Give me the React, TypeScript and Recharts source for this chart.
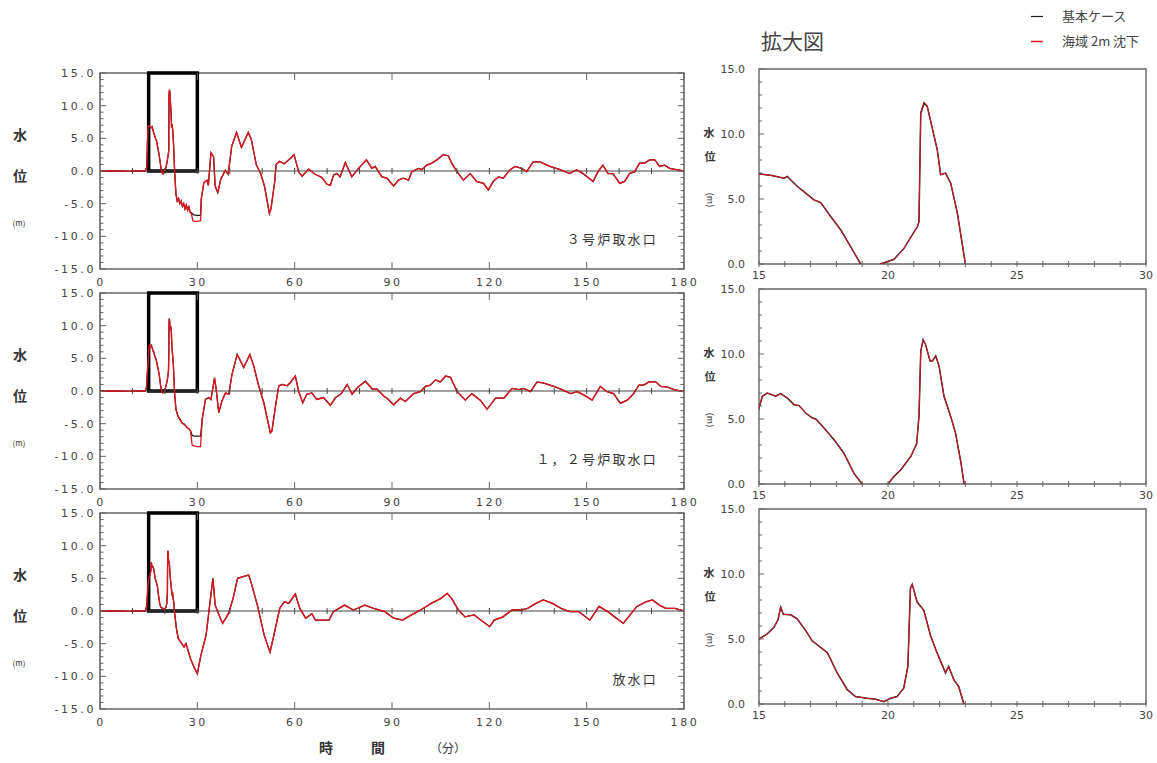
import React from "react";
import { ComposedChart, Line, XAxis, YAxis, ReferenceArea, ReferenceLine, Scatter } from "recharts";

type Pt = [number, number];

// water level [minute, m] — 3号炉取水口
const intake3Base: Pt[] = [
  [0, 0], [5, 0], [9.5, -0.05], [10, 0.1], [10.5, 0], [14, 0], [14.4, 0.6], [14.8, 6.8], [15, 6.94], [15.5, 6.8],
  [15.97, 6.6], [16.1, 6.73], [16.49, 5.96], [16.74, 5.57], [17.13, 4.93], [17.39, 4.73], [17.78, 3.65], [18.17, 2.62],
  [18.55, 1.34], [18.94, 0], [19.2, -0.35], [19.45, -0.45], [19.72, 0], [20.23, 0.36], [20.62, 1.2], [21.14, 2.88],
  [21.2, 3.26], [21.27, 11.6], [21.4, 12.38], [21.52, 12.12], [21.91, 8.78], [22.04, 6.86], [22.23, 6.99], [22.43, 6.22],
  [22.69, 3.9], [23.0, 0], [23.4, -3.5], [23.8, -4.6], [24.2, -4.2], [24.6, -5.0], [25, -4.6], [25.4, -5.4], [25.8, -5.0],
  [26.2, -5.8], [26.6, -5.2], [27, -6.0], [27.4, -5.5], [27.8, -6.3], [28.2, -6.4], [28.6, -6.6], [29, -6.7], [30, -6.8],
  [31, -6.8], [31.2, -4.3], [32, -1.8], [33, -1.4], [33.4, -2.2], [34.2, 2.8], [35, 2.2], [35.5, -2.3], [36.3, -3.3],
  [37.2, -1.3], [38.6, 0.1], [39.5, -0.5], [40.6, 3.8], [42.1, 5.9], [43.6, 3.6], [45.7, 5.9], [46.6, 4.9], [48.2, 0.9],
  [49.6, -0.5], [50.7, -2.3], [52.2, -6.5], [52.7, -5.8], [53.8, -1.8], [54.3, 1.0], [55.3, 1.5], [56.8, 1.1], [58.8, 2.0],
  [59.8, 2.5], [61.3, -0.2], [62.3, -0.8], [64.3, 0.3], [66.3, -0.5], [68.4, -1.0], [69.9, -2.0], [71, -2.2], [72, -0.6],
  [73, -0.4], [74, -0.9], [75.6, 1.3], [77.6, -0.9], [79.7, 0.4], [82.1, 1.7], [83.8, 0.4], [84.8, 0.7], [86.9, -0.9],
  [88.4, -1.1], [90.5, -2.3], [92, -1.4], [93.5, -1.1], [95.1, -1.4], [96.1, -0.1], [98.2, 0.4], [99.2, 0.2], [100.7, 0.9],
  [102.3, 1.2], [103.8, 1.7], [105.8, 2.5], [107.4, 2.3], [108.4, 1.2], [110, -0.1], [112, -1.4], [114.1, -0.4],
  [116.1, -1.6], [118.2, -1.9], [119.7, -2.9], [121.2, -1.6], [122.8, -0.9], [124.3, -1.1], [126.4, 0.2], [127.9, 0.7],
  [130, 0.4], [131.5, -0.1], [133.5, 1.4], [135.6, 1.4], [138.7, 0.7], [141.8, 0.2], [144.8, -0.4], [146.9, 0.2],
  [148.9, -0.4], [152, -1.6], [153.5, -0.1], [155, 0.9], [156.6, -0.4], [158.1, -0.4], [160.2, -1.9], [161.7, -1.6],
  [163.2, -0.4], [164.8, -0.1], [166.3, 1.2], [167.9, 1.2], [169.4, 1.7], [171, 1.7], [172.5, 0.7], [174, 0.9],
  [175.6, 0.4], [177.6, 0.2], [180, 0],
];
const intake3Sub: Pt[] = [
  [0, 0], [5, 0], [9.5, -0.05], [10, 0.1], [10.5, 0], [14, 0], [14.4, 0.6], [14.8, 6.8], [15, 6.94], [15.5, 6.8],
  [15.97, 6.6], [16.1, 6.73], [16.49, 5.96], [16.74, 5.57], [17.13, 4.93], [17.39, 4.73], [17.78, 3.65], [18.17, 2.62],
  [18.55, 1.34], [18.94, 0], [19.2, -0.35], [19.45, -0.45], [19.72, 0], [20.23, 0.36], [20.62, 1.2], [21.14, 2.88],
  [21.2, 3.26], [21.27, 11.7], [21.4, 12.45], [21.52, 12.15], [21.91, 8.8], [22.04, 6.86], [22.23, 6.99], [22.43, 6.22],
  [22.69, 3.9], [23.0, 0], [23.4, -3.5], [23.8, -4.6], [24.2, -4.2], [24.6, -5.0], [25, -4.6], [25.4, -5.4], [25.8, -5.0],
  [26.2, -5.8], [26.6, -5.2], [27, -6.0], [27.4, -5.5], [27.8, -6.3], [28.2, -6.6], [28.6, -7.6], [29, -7.7], [30, -7.7],
  [31, -7.6], [31.2, -4.3], [32, -1.8], [33, -1.4], [33.4, -2.2], [34.2, 2.8], [35, 2.2], [35.5, -2.3], [36.3, -3.3],
  [37.2, -1.3], [38.6, 0.1], [39.5, -0.5], [40.6, 3.8], [42.1, 5.9], [43.6, 3.6], [45.7, 5.9], [46.6, 4.9], [48.2, 0.9],
  [49.6, -0.5], [50.7, -2.3], [52.2, -6.5], [52.7, -5.8], [53.8, -1.8], [54.3, 1.0], [55.3, 1.5], [56.8, 1.1], [58.8, 2.0],
  [59.8, 2.5], [61.3, -0.2], [62.3, -0.8], [64.3, 0.3], [66.3, -0.5], [68.4, -1.0], [69.9, -2.0], [71, -2.2], [72, -0.6],
  [73, -0.4], [74, -0.9], [75.6, 1.3], [77.6, -0.9], [79.7, 0.4], [82.1, 1.7], [83.8, 0.4], [84.8, 0.7], [86.9, -0.9],
  [88.4, -1.1], [90.5, -2.3], [92, -1.4], [93.5, -1.1], [95.1, -1.4], [96.1, -0.1], [98.2, 0.4], [99.2, 0.2], [100.7, 0.9],
  [102.3, 1.2], [103.8, 1.7], [105.8, 2.5], [107.4, 2.3], [108.4, 1.2], [110, -0.1], [112, -1.4], [114.1, -0.4],
  [116.1, -1.6], [118.2, -1.9], [119.7, -2.9], [121.2, -1.6], [122.8, -0.9], [124.3, -1.1], [126.4, 0.2], [127.9, 0.7],
  [130, 0.4], [131.5, -0.1], [133.5, 1.4], [135.6, 1.4], [138.7, 0.7], [141.8, 0.2], [144.8, -0.4], [146.9, 0.2],
  [148.9, -0.4], [152, -1.6], [153.5, -0.1], [155, 0.9], [156.6, -0.4], [158.1, -0.4], [160.2, -1.9], [161.7, -1.6],
  [163.2, -0.4], [164.8, -0.1], [166.3, 1.2], [167.9, 1.2], [169.4, 1.7], [171, 1.7], [172.5, 0.7], [174, 0.9],
  [175.6, 0.4], [177.6, 0.2], [180, 0],
];

// 1，2号炉取水口
const intake12Base: Pt[] = [
  [0, 0], [5, 0], [9.5, -0.05], [10, 0.1], [10.5, 0], [14, 0], [14.3, 0.5], [14.7, 3.5], [15, 5.85], [15.13, 6.75],
  [15.32, 7.0], [15.65, 6.75], [15.84, 6.96], [16.1, 6.6], [16.36, 6.1], [16.55, 6.03], [16.81, 5.46], [17.07, 5.07],
  [17.2, 5.0], [17.52, 4.3], [17.91, 3.4], [18.29, 2.37], [18.68, 0.82], [19.0, 0], [19.3, -0.3], [19.7, -0.2], [20.0, 0],
  [20.23, 0.57], [20.49, 1.08], [20.88, 2.1], [21.11, 3.1], [21.2, 5.2], [21.27, 10.2], [21.36, 11.1], [21.46, 10.7],
  [21.63, 9.46], [21.72, 9.46], [21.85, 9.85], [21.98, 9.07], [22.17, 6.75], [22.43, 5.2], [22.62, 3.9], [22.82, 1.73],
  [22.95, 0], [23.4, -2.8], [24, -3.8], [24.6, -4.3], [25.3, -4.9], [26, -5.1], [26.8, -5.6], [27.5, -5.8], [27.9, -6.1],
  [28.4, -6.8], [29, -6.9], [30, -6.9], [31, -6.9], [31.5, -4.3], [32.5, -1.3], [33.5, -1.0], [34.2, -1.3], [35.3, 2.0],
  [35.8, 0.3], [36.6, -3.3], [37.6, -1.5], [38.7, -0.3], [39.7, -0.5], [40.7, 2.6], [42.3, 5.6], [44.3, 3.6], [46.2, 5.6],
  [47.4, 3.8], [48.9, 0.8], [50.5, -1.8], [52.5, -6.4], [53, -6.1], [54.1, -2.3], [55.1, 0.8], [56.2, 1.0], [57.7, 0.8],
  [58.7, 1.3], [60.2, 2.3], [61.2, 0], [62.5, -1.8], [63.7, -0.5], [65.3, -0.3], [66.8, -1.3], [68.9, -1.0], [71, -2.2],
  [72.6, -1.0], [74.2, -0.5], [76.2, 1.0], [77.7, -0.5], [79.3, 0.5], [81.8, 1.5], [83.9, 0.3], [85.4, 0.3], [87.5, -0.8],
  [88.5, -1.1], [90.5, -2.1], [92.6, -1.1], [94.1, -1.6], [96.7, -0.4], [98.7, -0.1], [100.3, 0.7], [101.8, 0.9],
  [103.4, 1.7], [104.9, 1.4], [106.5, 2.3], [108, 2.1], [110.1, -0.1], [112.6, -1.4], [114.6, -0.4], [117.2, -1.4],
  [119.3, -2.8], [121.9, -1.1], [124.5, -1.1], [127, 0.4], [129.1, 0.2], [130.6, 0.4], [132.7, -0.1], [134.7, 1.4],
  [136.8, 1.2], [139.9, 0.7], [142.4, 0.2], [145, -0.4], [147.1, -0.1], [149.1, -0.6], [151.7, -1.4], [154.2, 0.7],
  [156.3, -0.1], [158.3, -0.4], [160.4, -1.9], [162.5, -1.4], [164.5, -0.4], [166.1, 0.9], [167.6, 0.9], [169.2, 1.4],
  [171.3, 1.4], [172.8, 0.7], [174.9, 0.6], [176.9, 0.2], [180, -0.1],
];
const intake12Sub: Pt[] = [
  [0, 0], [5, 0], [9.5, -0.05], [10, 0.1], [10.5, 0], [14, 0], [14.3, 0.5], [14.7, 3.5], [15, 5.85], [15.13, 6.75],
  [15.32, 7.0], [15.65, 6.75], [15.84, 6.96], [16.1, 6.6], [16.36, 6.1], [16.55, 6.03], [16.81, 5.46], [17.07, 5.07],
  [17.2, 5.0], [17.52, 4.3], [17.91, 3.4], [18.29, 2.37], [18.68, 0.82], [19.0, 0], [19.3, -0.3], [19.7, -0.2], [20.0, 0],
  [20.23, 0.57], [20.49, 1.08], [20.88, 2.1], [21.11, 3.1], [21.2, 5.2], [21.27, 10.2], [21.36, 11.1], [21.46, 10.7],
  [21.63, 9.46], [21.72, 9.46], [21.85, 9.85], [21.98, 9.07], [22.17, 6.75], [22.43, 5.2], [22.62, 3.9], [22.82, 1.73],
  [22.95, 0], [23.4, -2.8], [24, -3.8], [24.6, -4.3], [25.3, -4.9], [26, -5.1], [26.8, -5.6], [27.5, -5.8], [27.9, -6.1],
  [28.4, -8.3], [29, -8.4], [30, -8.5], [31, -8.5], [31.5, -4.3], [32.5, -1.3], [33.5, -1.0], [34.2, -1.3], [35.3, 2.0],
  [35.8, 0.3], [36.6, -3.3], [37.6, -1.5], [38.7, -0.3], [39.7, -0.5], [40.7, 2.6], [42.3, 5.6], [44.3, 3.6], [46.2, 5.6],
  [47.4, 3.8], [48.9, 0.8], [50.5, -1.8], [52.5, -6.4], [53, -6.1], [54.1, -2.3], [55.1, 0.8], [56.2, 1.0], [57.7, 0.8],
  [58.7, 1.3], [60.2, 2.3], [61.2, 0], [62.5, -1.8], [63.7, -0.5], [65.3, -0.3], [66.8, -1.3], [68.9, -1.0], [71, -2.2],
  [72.6, -1.0], [74.2, -0.5], [76.2, 1.0], [77.7, -0.5], [79.3, 0.5], [81.8, 1.5], [83.9, 0.3], [85.4, 0.3], [87.5, -0.8],
  [88.5, -1.1], [90.5, -2.1], [92.6, -1.1], [94.1, -1.6], [96.7, -0.4], [98.7, -0.1], [100.3, 0.7], [101.8, 0.9],
  [103.4, 1.7], [104.9, 1.4], [106.5, 2.3], [108, 2.1], [110.1, -0.1], [112.6, -1.4], [114.6, -0.4], [117.2, -1.4],
  [119.3, -2.8], [121.9, -1.1], [124.5, -1.1], [127, 0.4], [129.1, 0.2], [130.6, 0.4], [132.7, -0.1], [134.7, 1.4],
  [136.8, 1.2], [139.9, 0.7], [142.4, 0.2], [145, -0.4], [147.1, -0.1], [149.1, -0.6], [151.7, -1.4], [154.2, 0.7],
  [156.3, -0.1], [158.3, -0.4], [160.4, -1.9], [162.5, -1.4], [164.5, -0.4], [166.1, 0.9], [167.6, 0.9], [169.2, 1.4],
  [171.3, 1.4], [172.8, 0.7], [174.9, 0.6], [176.9, 0.2], [180, -0.1],
];

// 放水口
const outfallBase: Pt[] = [
  [0, 0], [5, 0], [9.5, -0.05], [10, 0.1], [10.5, 0], [14, 0], [14.4, 0.8], [14.8, 4.0], [15, 5.0], [15.32, 5.4],
  [15.58, 5.9], [15.74, 6.5], [15.84, 7.45], [15.94, 6.9], [16.23, 6.86], [16.48, 6.55], [16.81, 5.64], [17.06, 4.86],
  [17.45, 4.26], [17.65, 3.95], [18.03, 2.4], [18.42, 1.1], [18.74, 0.57], [19.19, 0.44], [19.52, 0.36], [19.84, 0.18],
  [20.1, 0.44], [20.35, 0.57], [20.61, 1.22], [20.77, 2.9], [20.87, 8.9], [20.94, 9.2], [21.13, 7.84], [21.39, 7.2],
  [21.65, 5.25], [21.9, 3.95], [22.23, 2.4], [22.35, 2.9], [22.55, 1.87], [22.74, 1.35], [22.94, 0], [23.5, -2.5],
  [24.1, -4.2], [25.2, -5.0], [25.9, -5.5], [26.5, -5.0], [27.9, -7.3], [29, -8.6], [30, -9.6], [31.1, -6.8], [32.7, -3.7],
  [33.8, 0.9], [34.8, 5.0], [35.5, 0.9], [36.5, -0.4], [37.8, -1.9], [39.6, -0.4], [41, 1.9], [42.4, 5.0], [44.4, 5.3],
  [45.8, 5.5], [46.5, 4.5], [48.6, 0.7], [50.6, -3.7], [52.4, -6.3], [53.6, -3.7], [55.4, 0.4], [56.8, 1.4], [58.2, 1.2],
  [60.2, 2.6], [61.6, 0.4], [63.4, -1.1], [65.3, -0.4], [66.4, -1.4], [70.6, -1.4], [71.9, -0.1], [75.4, 0.9], [78.1, 0.15],
  [81.6, 0.9], [84.3, 0.4], [87.8, -0.1], [90.5, -1.1], [93.3, -1.4], [96, -0.6], [98.8, 0.15], [102.2, 1.2], [105, 1.9],
  [107, 2.7], [108.4, 1.9], [110.5, 0.15], [112.5, -0.9], [115.3, -0.6], [118, -1.6], [120.1, -2.4], [121.5, -1.4],
  [124.2, -0.9], [127, 0.15], [129.7, 0.15], [131.8, 0.4], [134.5, 1.2], [136.6, 1.7], [139.3, 1.2], [142.1, 0.4],
  [144.8, -0.1], [147.6, -0.1], [151, -1.4], [153.8, 0.7], [156.5, -0.1], [158.6, -0.9], [161.3, -1.9], [163.4, -0.6],
  [165.5, 0.7], [168.2, 1.4], [170.3, 1.7], [172.4, 0.9], [174.4, 0.4], [177.2, 0.4], [180, 0],
];
const outfallSub: Pt[] = [
  [0, 0], [5, 0], [9.5, -0.05], [10, 0.1], [10.5, 0], [14, 0], [14.4, 0.8], [14.8, 4.0], [15, 5.0], [15.32, 5.4],
  [15.58, 5.9], [15.74, 6.5], [15.84, 7.5], [15.94, 6.9], [16.23, 6.86], [16.48, 6.55], [16.81, 5.64], [17.06, 4.86],
  [17.45, 4.26], [17.65, 3.95], [18.03, 2.4], [18.42, 1.1], [18.74, 0.57], [19.19, 0.44], [19.52, 0.36], [19.84, 0.18],
  [20.1, 0.44], [20.35, 0.57], [20.61, 1.22], [20.77, 2.9], [20.87, 8.9], [20.94, 9.2], [21.13, 7.84], [21.39, 7.2],
  [21.65, 5.25], [21.9, 3.95], [22.23, 2.4], [22.35, 2.9], [22.55, 1.87], [22.74, 1.35], [22.94, 0], [23.5, -2.5],
  [24.1, -4.2], [25.2, -5.0], [25.9, -5.5], [26.5, -5.0], [27.9, -7.3], [29, -8.6], [30, -9.6], [31.1, -6.8], [32.7, -3.7],
  [33.8, 0.9], [34.8, 5.0], [35.5, 0.9], [36.5, -0.4], [37.8, -1.9], [39.6, -0.4], [41, 1.9], [42.4, 5.0], [44.4, 5.3],
  [45.8, 5.5], [46.5, 4.5], [48.6, 0.7], [50.6, -3.7], [52.4, -6.3], [53.6, -3.7], [55.4, 0.4], [56.8, 1.4], [58.2, 1.2],
  [60.2, 2.6], [61.6, 0.4], [63.4, -1.1], [65.3, -0.4], [66.4, -1.4], [70.6, -1.4], [71.9, -0.1], [75.4, 0.9], [78.1, 0.15],
  [81.6, 0.9], [84.3, 0.4], [87.8, -0.1], [90.5, -1.1], [93.3, -1.4], [96, -0.6], [98.8, 0.15], [102.2, 1.2], [105, 1.9],
  [107, 2.7], [108.4, 1.9], [110.5, 0.15], [112.5, -0.9], [115.3, -0.6], [118, -1.6], [120.1, -2.4], [121.5, -1.4],
  [124.2, -0.9], [127, 0.15], [129.7, 0.15], [131.8, 0.4], [134.5, 1.2], [136.6, 1.7], [139.3, 1.2], [142.1, 0.4],
  [144.8, -0.1], [147.6, -0.1], [151, -1.4], [153.8, 0.7], [156.5, -0.1], [158.6, -0.9], [161.3, -1.9], [163.4, -0.6],
  [165.5, 0.7], [168.2, 1.4], [170.3, 1.7], [172.4, 0.9], [174.4, 0.4], [177.2, 0.4], [180, 0],
];

const panelNames = ["３号炉取水口", "１，２号炉取水口", "放水口"];
const minuteTicks = [0, 30, 60, 90, 120, 150, 180];
const zeroMarkMinutes = [10, 20, 30, 40, 50, 60, 70, 80, 90, 100, 110, 120, 130, 140, 150, 160, 170];
const levelTicks = [-15, -14, -13, -12, -11, -10, -9, -8, -7, -6, -5, -4, -3, -2, -1, 0, 1, 2, 3, 4, 5, 6, 7, 8, 9, 10, 11, 12, 13, 14, 15];
const zoomMinuteTicks = [15, 16, 17, 18, 19, 20, 21, 22, 23, 24, 25, 26, 27, 28, 29, 30];
const zoomMinuteLabels = [15, 20, 25, 30];
const zoomLevelTicks = [0, 1, 2, 3, 4, 5, 6, 7, 8, 9, 10, 11, 12, 13, 14, 15];
const legendNames = ["基本ケース", "海域 2m 沈下"];

const AXIS = "#666";
const RED = "#e3141c";
const BLACK = "#1c1c1c";
const JP = "'Noto Sans CJK JP', sans-serif";
const NUM = "'DejaVu Sans', sans-serif";

const rows = (pts: Pt[]) => pts.map(([t, v]) => ({ t, v }));

const FULL_LEFT = 100, FULL_W = 584, FULL_H = 196;
const ZOOM_LEFT = 759, ZOOM_W = 387, ZOOM_H = 195;

function FullPanel({ top, base, sub }: { top: number; base: Pt[]; sub: Pt[] }) {
  const ML = 90, MT = 10, MB = 30, MR = 30;
  const yTick = ({ x, y, payload }: any) => {
    const v = payload.value;
    const major = v % 5 === 0;
    const len = major ? 6 : 3.5;
    return (
      <g>
        <line x1={x} x2={x + len} y1={y} y2={y} stroke={AXIS} strokeWidth={1} />
        <line x1={x + FULL_W} x2={x + FULL_W - len} y1={y} y2={y} stroke={AXIS} strokeWidth={1} />
        {major && (
          <text x={x - 4} y={y} dy={4} textAnchor="end" fontSize={11} letterSpacing={2.6} fill="#444" fontFamily={NUM}>
            {v.toFixed(1)}
          </text>
        )}
      </g>
    );
  };
  const xTick = ({ x, y, payload }: any) => (
    <g>
      <line x1={x} x2={x} y1={y} y2={y - 7} stroke={AXIS} />
      <line x1={x} x2={x} y1={y - FULL_H} y2={y - FULL_H + 7} stroke={AXIS} />
      <text x={x + 1} y={y} dy={17} textAnchor="middle" fontSize={11} letterSpacing={2.6} fill="#444" fontFamily={NUM}>
        {payload.value}
      </text>
    </g>
  );
  const zeroMark = (p: any) => <line x1={p.cx} x2={p.cx} y1={p.cy - 3} y2={p.cy + 3} stroke="#444" />;
  return (
    <div style={{ position: "absolute", left: FULL_LEFT - ML, top: top - MT }}>
      <ComposedChart width={ML + FULL_W + MR} height={MT + FULL_H + MB} margin={{ top: MT, right: MR, bottom: 0, left: 0 }}>
        <XAxis dataKey="t" type="number" domain={[0, 180]} ticks={minuteTicks} interval={0} allowDataOverflow
          axisLine={false} tickLine={false} tickSize={0} tickMargin={0} height={MB} tick={xTick} />
        <YAxis type="number" domain={[-15, 15]} ticks={levelTicks} interval={0} allowDataOverflow
          axisLine={false} tickLine={false} tickSize={0} tickMargin={0} width={ML} tick={yTick} />
        <ReferenceArea x1={0} x2={180} y1={-15} y2={15} fill="none" stroke={AXIS} strokeWidth={1.6} />
        <ReferenceLine y={0} stroke="#444" strokeWidth={1} />
        <Scatter data={zeroMarkMinutes.map((t) => ({ t, v: 0 }))} dataKey="v" shape={zeroMark} isAnimationActive={false} />
        <Line data={rows(base)} dataKey="v" type="linear" stroke={BLACK} strokeWidth={1.3} dot={false} isAnimationActive={false} />
        <Line data={rows(sub)} dataKey="v" type="linear" stroke={RED} strokeWidth={1.3} dot={false} isAnimationActive={false} />
        <ReferenceArea x1={15} x2={30} y1={0} y2={15} fill="none" stroke="#000" strokeWidth={3.5} />
      </ComposedChart>
    </div>
  );
}

function ZoomPanel({ top, base, sub }: { top: number; base: Pt[]; sub: Pt[] }) {
  const ML = 60, MT = 10, MB = 26, MR = 10;
  const yTick = ({ x, y, payload }: any) => {
    const v = payload.value;
    const major = v % 5 === 0;
    return (
      <g>
        <line x1={x} x2={x + (major ? 5 : 3)} y1={y} y2={y} stroke={AXIS} />
        {major && (
          <text x={x - 14} y={y} dy={4} textAnchor="end" fontSize={11} fill="#444" fontFamily={NUM}>
            {v.toFixed(1)}
          </text>
        )}
      </g>
    );
  };
  const xTick = ({ x, y, payload }: any) => (
    <g>
      <line x1={x} x2={x} y1={y - 3} y2={y + 3} stroke={AXIS} />
      {zoomMinuteLabels.includes(payload.value) && (
        <text x={x} y={y} dy={15} textAnchor="middle" fontSize={11} fill="#444" fontFamily={NUM}>
          {payload.value}
        </text>
      )}
    </g>
  );
  return (
    <div style={{ position: "absolute", left: ZOOM_LEFT - ML, top: top - MT }}>
      <ComposedChart width={ML + ZOOM_W + MR} height={MT + ZOOM_H + MB} margin={{ top: MT, right: MR, bottom: 0, left: 0 }}>
        <XAxis dataKey="t" type="number" domain={[15, 30]} ticks={zoomMinuteTicks} interval={0} allowDataOverflow
          axisLine={false} tickLine={false} tickSize={0} tickMargin={0} height={MB} tick={xTick} />
        <YAxis type="number" domain={[0, 15]} ticks={zoomLevelTicks} interval={0} allowDataOverflow
          axisLine={false} tickLine={false} tickSize={0} tickMargin={0} width={ML} tick={yTick} />
        <ReferenceArea x1={15} x2={30} y1={0} y2={15} fill="none" stroke={AXIS} strokeWidth={1.4} />
        <Line data={rows(base)} dataKey="v" type="linear" stroke={BLACK} strokeWidth={1.5} dot={false} isAnimationActive={false} />
        <Line data={rows(sub)} dataKey="v" type="linear" stroke={RED} strokeWidth={1} dot={false} isAnimationActive={false} />
      </ComposedChart>
    </div>
  );
}

const fullTops = [73, 293, 513];
const zoomTops = [69, 289, 509];
const series = [
  [intake3Base, intake3Sub],
  [intake12Base, intake12Sub],
  [outfallBase, outfallSub],
];

export default function App() {
  return (
    <div style={{ position: "absolute", left: 0, top: 0, width: 1157, height: 763, background: "#fff", overflow: "hidden" }}>
      {series.map(([b, s], i) => (
        <FullPanel key={"f" + i} top={fullTops[i]} base={b} sub={s} />
      ))}
      {series.map(([b, s], i) => (
        <ZoomPanel key={"z" + i} top={zoomTops[i]} base={b} sub={s} />
      ))}
      <svg width={1157} height={763} style={{ position: "absolute", left: 0, top: 0, pointerEvents: "none" }} fontFamily={JP}>
        {fullTops.map((t, i) => (
          <g key={"lab" + i} fill="#333">
            <text x={20} y={t + 67} textAnchor="middle" fontSize={14} fontWeight={700}>水</text>
            <text x={20} y={t + 108} textAnchor="middle" fontSize={14} fontWeight={700}>位</text>
            <text x={19} y={t + 153} textAnchor="middle" fontSize={8}>(m)</text>
            <text x={658} y={t + 171} textAnchor="end" fontSize={13} letterSpacing={2.2}>{panelNames[i]}</text>
          </g>
        ))}
        {zoomTops.map((t, i) => (
          <g key={"zl" + i} fill="#333">
            <text x={709} y={t + 68} textAnchor="middle" fontSize={11} fontWeight={700}>水</text>
            <text x={710} y={t + 92} textAnchor="middle" fontSize={11} fontWeight={700}>位</text>
            <text x={710} y={t + 131} textAnchor="middle" fontSize={9} transform={`rotate(90 710 ${t + 131})`} dy={3}>(m)</text>
          </g>
        ))}
        <text x={326} y={753} textAnchor="middle" fontSize={14} fontWeight={700} fill="#333">時</text>
        <text x={378} y={753} textAnchor="middle" fontSize={14} fontWeight={700} fill="#333">間</text>
        <text x={448} y={753} textAnchor="middle" fontSize={12} fill="#333">（分）</text>
        <text x={761} y={49} fontSize={21} fill="#444">拡大図</text>
        <line x1={1031} x2={1043} y1={16.5} y2={16.5} stroke={BLACK} strokeWidth={1.2} />
        <line x1={1031} x2={1043} y1={41.5} y2={41.5} stroke={RED} strokeWidth={1.5} />
        <text x={1062} y={21} fontSize={13} fill="#444">{legendNames[0]}</text>
        <text x={1062} y={46} fontSize={13} fill="#444">{legendNames[1]}</text>
      </svg>
    </div>
  );
}
